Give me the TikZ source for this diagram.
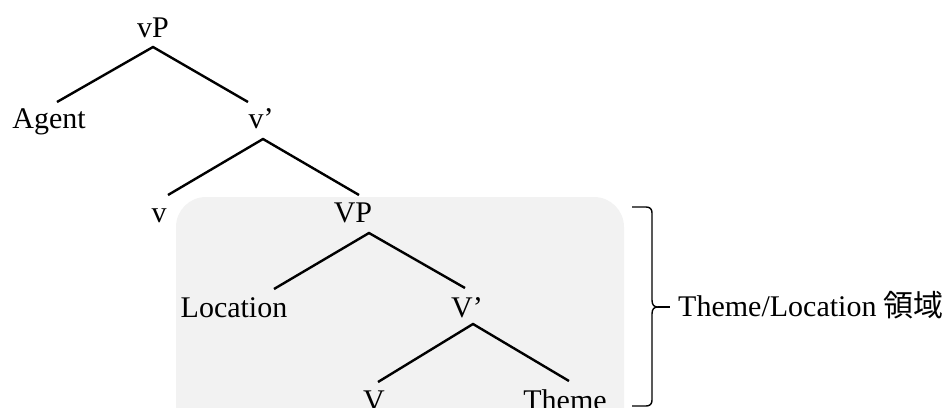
\documentclass[tikz,border=0pt]{standalone}
\usepackage{fontspec}
\setmainfont{Liberation Serif}
\newfontfamily\cjk{Noto Sans CJK JP}
\begin{document}
\begin{tikzpicture}[x=1pt,y=-1pt,
  lbl/.style={font=\fontsize{30}{36}\selectfont, inner sep=0pt, anchor=base},
  edge/.style={line width=2.4pt},
  bracket/.style={line width=1.4pt, line join=round}]
\useasboundingbox (0,0) rectangle (952,407);
\clip (0,0) rectangle (952,407);

% shaded VP domain
\fill[black!5, rounded corners=30pt] (176,197) rectangle (624,470);

% tree labels
\node[lbl] (vP)   at (153,37)  {vP};
\node[lbl] (Agent) at (49,128) {Agent};
\node[lbl] (vbar) at (261,128) {v’};
\node[lbl] (v)    at (159,222) {v};
\node[lbl] (VP)   at (353,222) {VP};
\node[lbl] (Loc)  at (234,317) {Location};
\node[lbl] (Vbar) at (467,317) {V’};
\node[lbl] (V)    at (374,410) {V};
\node[lbl] (Theme) at (565,410) {Theme};

% branch points
\coordinate (vP-j)    at (153,47);
\coordinate (Agent-j) at (57,102);
\coordinate (vbar-u)  at (248,102);
\coordinate (vbar-j)  at (263,139);
\coordinate (v-j)     at (168,195);
\coordinate (VP-u)    at (359,195);
\coordinate (VP-j)    at (369,233);
\coordinate (Loc-j)   at (274,289);
\coordinate (Vbar-u)  at (465,288);
\coordinate (Vbar-j)  at (473,324);
\coordinate (V-j)     at (378,382);
\coordinate (Theme-j) at (569,381);

\draw[edge] (Agent-j) -- (vP-j) -- (vbar-u);
\draw[edge] (v-j) -- (vbar-j) -- (VP-u);
\draw[edge] (Loc-j) -- (VP-j) -- (Vbar-u);
\draw[edge] (V-j) -- (Vbar-j) -- (Theme-j);

% right brace and its label
\coordinate (br-top) at (632,207);
\coordinate (br-tip) at (658,307);
\coordinate (br-bot) at (632,406);
\coordinate (br-end) at (670,307);
\draw[bracket] (br-top) -- (646,207) .. controls (650,207) and (652,209) .. (652,213)
  -- (652,300) .. controls (652,305) and (654,307) .. (br-tip)
  .. controls (654,307) and (652,309) .. (652,314)
  -- (652,400) .. controls (652,404) and (650,406) .. (646,406) -- (br-bot);
\draw[bracket] (br-tip) -- (br-end);
\node[lbl, anchor=base west] (region) at (678,316) {Theme/Location {\cjk 領域}};
\end{tikzpicture}
\end{document}
